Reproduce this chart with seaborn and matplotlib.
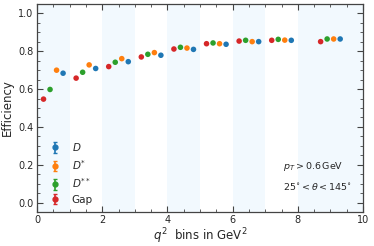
import numpy as np
import pandas as pd
import matplotlib
matplotlib.use("Agg")
import matplotlib.pyplot as plt
import seaborn as sns
from matplotlib.ticker import MultipleLocator

# bins
bin_lo = [0, 1, 2, 3, 4, 5, 6, 7, 8]
bin_hi = [1, 2, 3, 4, 5, 6, 7, 8, 10]
series = ["$D$", "$D^{*}$", "$D^{**}$", "Gap"]
eff_D = [0.684, 0.709, 0.745, 0.779, 0.810, 0.837, 0.851, 0.858, 0.865]
eff_Dstar = [0.700, 0.728, 0.761, 0.793, 0.817, 0.840, 0.851, 0.859, 0.865]
eff_Dss = [0.598, 0.689, 0.742, 0.784, 0.821, 0.844, 0.858, 0.863, 0.865]
eff_Gap = [0.547, 0.658, 0.719, 0.770, 0.812, 0.840, 0.854, 0.858, 0.851]
offsets = {"$D$": 0.3, "$D^{*}$": 0.1, "$D^{**}$": -0.1, "Gap": -0.3}
colors = {"$D$": "#1f77b4", "$D^{*}$": "#ff7f0e", "$D^{**}$": "#2ca02c", "Gap": "#d62728"}

vals = {"$D$": eff_D, "$D^{*}$": eff_Dstar, "$D^{**}$": eff_Dss, "Gap": eff_Gap}
rows = []
for s in series:
    for lo, hi, v in zip(bin_lo, bin_hi, vals[s]):
        rows.append({"x": (lo + hi) / 2 + offsets[s], "eff": v, "series": s})
df = pd.DataFrame(rows)

sns.set_theme(style="ticks")
plt.rcParams["font.family"] = ["DejaVu Sans"]
plt.rcParams["mathtext.fontset"] = "dejavusans"

fig = plt.figure(figsize=(3.74, 2.46), dpi=100)
ax = fig.add_axes([37 / 374, 1 - 212 / 246, 326 / 374, 208 / 246])

for i, (lo, hi) in enumerate(zip(bin_lo, bin_hi)):
    if i % 2 == 0:
        ax.axvspan(lo, hi, color="#f2f9fe", lw=0, zorder=0)

sns.scatterplot(data=df, x="x", y="eff", hue="series", hue_order=series[::-1],
                palette=colors, s=16, linewidth=0, ax=ax, legend=False, zorder=3)

handles = []
for s in series:
    h = ax.errorbar([np.nan], [np.nan], yerr=[0.03], fmt="o", color=colors[s],
                    markersize=3.5, elinewidth=1.2, capsize=1.5, label=s)
    handles.append(h)
ax.legend(handles=handles, labels=series, loc="lower left", frameon=False,
          fontsize=7.5, handlelength=0.8, handletextpad=1.2, labelspacing=0.45,
          borderaxespad=0.3, bbox_to_anchor=(0.02, 0.0))

ax.text(7.55, 0.19, r"$p_T > 0.6\,$GeV", fontsize=6.8, va="center", ha="left")
ax.text(7.55, 0.08, r"$25^{\circ} < \theta < 145^{\circ}$", fontsize=6.8, va="center", ha="left")

ax.set_xlim(0, 10)
ax.set_ylim(-0.05, 1.05)
ax.xaxis.set_major_locator(MultipleLocator(2))
ax.xaxis.set_minor_locator(MultipleLocator(0.5))
ax.yaxis.set_major_locator(MultipleLocator(0.2))
ax.yaxis.set_minor_locator(MultipleLocator(0.05))
ax.tick_params(which="both", direction="in", top=True, right=True, labelsize=7,
               color="#444444", pad=2.5)
ax.tick_params(which="major", length=4, width=0.8)
ax.tick_params(which="minor", length=2, width=0.6)
for sp in ax.spines.values():
    sp.set_color("#444444")
    sp.set_linewidth(0.9)
ax.set_xlabel(r"$q^2$  bins in GeV$^2$", fontsize=8.5, labelpad=1)
ax.set_ylabel("Efficiency", fontsize=8.5, labelpad=3)

fig.savefig("out.png", dpi=100)
